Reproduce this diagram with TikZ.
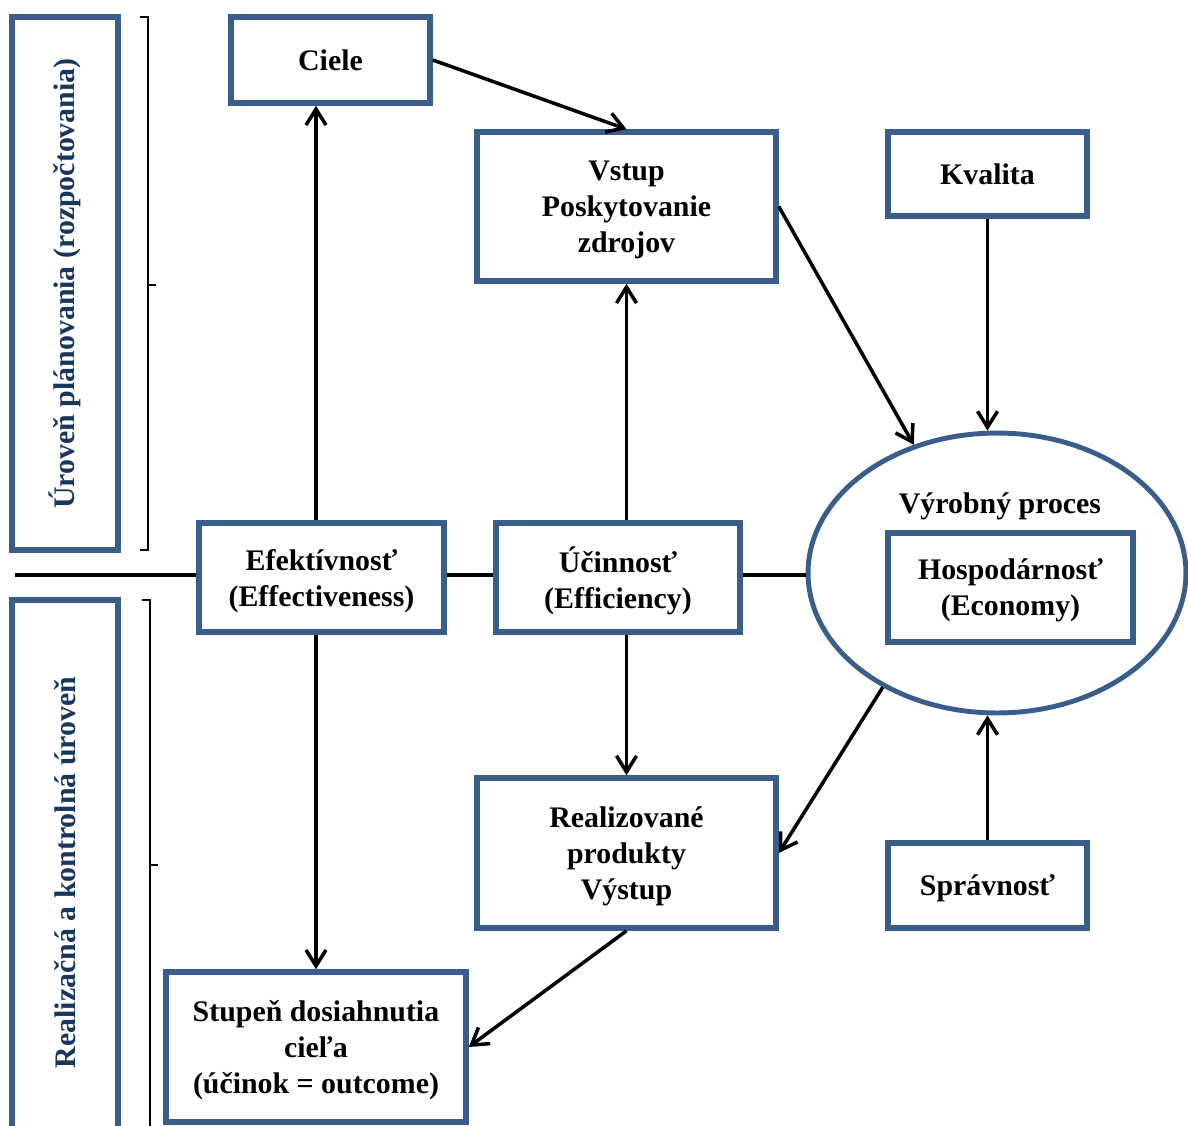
\documentclass[tikz,border=0pt]{standalone}
\usepackage{fontspec}
\setmainfont{Liberation Serif}
\usepackage{tikz}
\usetikzlibrary{arrows.meta, shapes.geometric}

\definecolor{boxblue}{HTML}{3A5E8C}
\definecolor{levelnavy}{HTML}{17375E}

\begin{document}
\begin{tikzpicture}[
  x=0.02cm, y=-0.02cm,
  every node/.style={font=\fontsize{17}{20.5}\selectfont\bfseries},
  stepbox/.style={draw=boxblue, line width=3.2pt, fill=white, align=center,
                  inner sep=2pt, text depth=0pt},
  levelbox/.style={draw=boxblue, line width=3.2pt, rotate=90, text=levelnavy,
                   minimum height=2.12cm},
  procbox/.style={ellipse, draw=boxblue, line width=2.8pt, inner sep=0pt},
  arrow/.style={-{Straight Barb[length=3.2mm, width=4mm]}, line width=2pt},
  axis/.style={line width=2pt},
  bracket/.style={line width=1.6pt},
]
\useasboundingbox (0,0) rectangle (1188,1126);
\clip (0,0) rectangle (1188,1126);

% ---- Levels (left) ----
\node[levelbox, minimum width=10.66cm] (plan) at (65, 283.5) {Úroveň plánovania (rozpočtovania)};
\node[levelbox, minimum width=10.9cm] (kontrola) at (65, 872.5) {Realizačná a kontrolná úroveň};

\draw[bracket] (140, 17) -- (148, 17) -- (148, 550) -- (140, 550);
\draw[bracket] (148, 285) -- (156, 285);
\draw[bracket] (142, 600) -- (150, 600) -- (150, 1140);
\draw[bracket] (150, 865) -- (158, 865);

% ---- Process ----
\node[procbox, minimum width=7.56cm, minimum height=5.6cm] (proces) at (997, 573) {};
\node (proces_title) at (1000, 506) {Výrobný proces};
\node[stepbox, minimum width=4.9cm, minimum height=2.18cm] (hosp) at (1010.5, 587.5) {Hospodárnosť\\(Economy)};

% ---- Boxes ----
\node[stepbox, minimum width=3.98cm, minimum height=1.72cm] (ciele) at (330.5, 60) {Ciele};
\node[stepbox, minimum width=5.98cm, minimum height=2.98cm] (vstup) at (626.5, 206.5) {Vstup\\Poskytovanie\\zdrojov};
\node[stepbox, minimum width=3.98cm, minimum height=1.68cm] (kvalita) at (987.5, 174) {Kvalita};

\node[stepbox, minimum width=4.9cm, minimum height=2.18cm] (efekt) at (321.5, 577.5) {Efektívnosť\\(Effectiveness)};
\node[stepbox, minimum width=4.88cm, minimum height=2.18cm] (ucin) at (618, 577.5) {Účinnosť\\(Efficiency)};

\node[stepbox, minimum width=5.98cm, minimum height=3cm] (real) at (626.5, 853) {Realizované\\produkty\\Výstup};
\node[stepbox, minimum width=3.98cm, minimum height=1.7cm] (sprav) at (987.5, 885.5) {Správnosť};
\node[stepbox, minimum width=6cm, minimum height=3cm] (stupen) at (316, 1047) {Stupeň dosiahnutia\\cieľa\\(účinok = outcome)};

% ---- Axis between levels ----
\coordinate (axis_start) at (15, 575);
\draw[axis] (axis_start) -- (axis_start -| efekt.west);
\draw[axis] (efekt.east |- axis_start) -- (ucin.west |- axis_start);
\draw[axis] (ucin.east |- axis_start) -- (proces.west |- axis_start);

% ---- Arrows ----
\draw[arrow] (ciele.east) -- (vstup.north);
\draw[arrow] (efekt.north -| stupen.north) -- (ciele.south -| stupen.north);
\draw[arrow] (efekt.south -| stupen.north) -- (stupen.north);
\draw[arrow] (ucin.north -| vstup.south) -- (vstup.south);
\draw[arrow] (ucin.south -| real.north) -- (real.north);
\draw[arrow] (vstup.east) -- (proces.123);
\draw[arrow] (kvalita.south) -- (kvalita.south |- proces.north);
\draw[arrow] (proces.225) -- (real.east);
\draw[arrow] (sprav.north) -- (sprav.north |- proces.south);
\draw[arrow] (real.south) -- (stupen.east);

\end{tikzpicture}
\end{document}
